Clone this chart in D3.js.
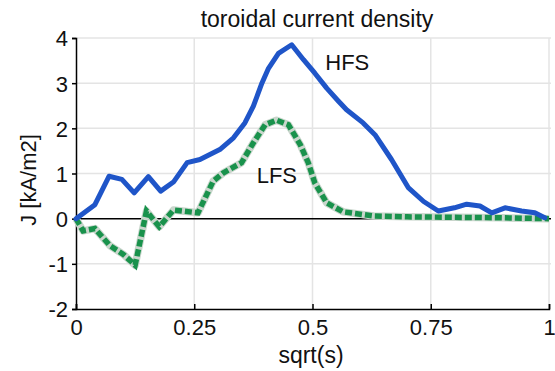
<!DOCTYPE html>
<html>
<head>
<meta charset="utf-8">
<script src="https://cdn.jsdelivr.net/npm/d3@7"></script>
<style>
  body { margin: 0; background: #fff; }
  text { font-family: "Liberation Sans", Arial, sans-serif; fill: #111; }
</style>
</head>
<body>
<div id="chart" style="width:555px;height:371px;"></div>
<script>
// values
const hfsX = [0, 0.04, 0.07, 0.097, 0.123, 0.153, 0.179, 0.206, 0.235, 0.262, 0.304, 0.333, 0.357, 0.375, 0.393, 0.407, 0.428, 0.456, 0.481, 0.505, 0.530, 0.555, 0.572, 0.607, 0.632, 0.667, 0.703, 0.735, 0.766, 0.80, 0.826, 0.854, 0.879, 0.907, 0.942, 0.970, 0.991];
const hfsY = [0, 0.31, 0.94, 0.87, 0.57, 0.93, 0.61, 0.81, 1.24, 1.31, 1.53, 1.79, 2.12, 2.49, 3.0, 3.33, 3.66, 3.85, 3.52, 3.22, 2.89, 2.60, 2.41, 2.12, 1.86, 1.31, 0.68, 0.38, 0.17, 0.24, 0.32, 0.28, 0.13, 0.24, 0.17, 0.13, 0.02];
const lfsX = [0, 0.015, 0.04, 0.072, 0.10, 0.125, 0.149, 0.176, 0.206, 0.258, 0.29, 0.311, 0.35, 0.375, 0.40, 0.424, 0.449, 0.474, 0.491, 0.505, 0.53, 0.565, 0.629, 0.70, 0.80, 0.90, 1.0];
const lfsY = [0, -0.27, -0.22, -0.6, -0.79, -1.03, 0.17, -0.18, 0.19, 0.13, 0.83, 1.01, 1.24, 1.68, 2.08, 2.18, 2.08, 1.64, 1.24, 0.79, 0.35, 0.15, 0.06, 0.04, 0.03, 0.02, 0];
const xTicks = [0, 0.25, 0.5, 0.75, 1];
const xTickLabels = ["0", "0.25", "0.5", "0.75", "1"];
const yTicks = [-2, -1, 0, 1, 2, 3, 4];

const hfs = hfsX.map((x, i) => ({x: x, y: hfsY[i]}));
const lfs = lfsX.map((x, i) => ({x: x, y: lfsY[i]}));

function drawChart(container){
    const width = 555, height = 371,
          margin = {top: 38, right: 6, bottom: 62, left: 76},
          innerWidth = width - margin.left - margin.right,
          innerHeight = height - margin.top - margin.bottom;

    const svg = d3.select(container).append('svg')
        .attr('width', width)
        .attr('height', height);

    const viz = svg.append('g')
        .attr('transform', `translate(${margin.left},${margin.top})`);

    const x = d3.scaleLinear().domain([0, 1]).range([0, 473]);
    const y = d3.scaleLinear().domain([-2, 4]).range([innerHeight, 0]);

    // grid
    const grid = viz.append('g').classed('grid', true);
    grid.selectAll('line.v')
        .data(xTicks.filter(d => d > 0))
        .enter().append('line')
        .attr('x1', d => x(d)).attr('x2', d => x(d))
        .attr('y1', 0).attr('y2', innerHeight)
        .style('stroke', '#e4e4e4').style('stroke-width', 1.5);
    grid.selectAll('line.h')
        .data(yTicks.filter(d => d > -2 && d !== 0))
        .enter().append('line')
        .attr('x1', 0).attr('x2', x(1) + 2)
        .attr('y1', d => y(d)).attr('y2', d => y(d))
        .style('stroke', '#e4e4e4').style('stroke-width', 1.5);

    // zero line
    viz.append('line')
        .attr('x1', 0).attr('x2', x(1) + 2)
        .attr('y1', y(0)).attr('y2', y(0))
        .style('stroke', '#000').style('stroke-width', 1.5);

    // axes
    const xAxis = d3.axisBottom(x)
        .tickValues(xTicks)
        .tickSize(-5)
        .tickPadding(10)
        .tickFormat((d, i) => xTickLabels[i]);
    const yAxis = d3.axisLeft(y)
        .tickValues(yTicks)
        .tickSize(4)
        .tickPadding(4)
        .tickFormat(d => String(d));

    const gx = viz.append('g')
        .attr('transform', `translate(0,${innerHeight})`)
        .call(xAxis);
    const gy = viz.append('g').call(yAxis);

    [gx, gy].forEach(g => {
        g.select('.domain').style('stroke', '#000').style('stroke-width', 1.5);
        g.selectAll('.tick line').style('stroke', '#000').style('stroke-width', 1.5);
        g.selectAll('.tick text')
            .style('font-family', '"Liberation Sans", Arial, sans-serif')
            .style('font-size', '22px')
            .style('fill', '#111');
    });
    gy.selectAll('.tick text').attr('dy', '0.36em');

    const line = d3.line().x(d => x(d.x)).y(d => y(d.y));

    // LFS: dashed green with soft grey halo
    viz.append('path').datum(lfs)
        .attr('d', line)
        .style('fill', 'none')
        .style('stroke', '#c9d6cc')
        .style('stroke-width', 7.5)
        .style('stroke-linejoin', 'round');
    viz.append('path').datum(lfs)
        .attr('d', line)
        .style('fill', 'none')
        .style('stroke', '#19924c')
        .style('stroke-width', 5.5)
        .style('stroke-dasharray', '7,3');

    // HFS: solid blue
    viz.append('path').datum(hfs)
        .attr('d', line)
        .style('fill', 'none')
        .style('stroke', '#1f55c8')
        .style('stroke-width', 5)
        .style('stroke-linejoin', 'round')
        .style('stroke-linecap', 'round');

    // series labels
    viz.append('text')
        .attr('x', x(0.527)).attr('y', y(3.3))
        .style('font-size', '22px')
        .text('HFS');
    viz.append('text')
        .attr('x', x(0.382)).attr('y', y(0.8))
        .style('font-size', '22px')
        .text('LFS');

    // title and axis titles
    svg.append('text')
        .attr('x', 317).attr('y', 27)
        .attr('text-anchor', 'middle')
        .style('font-size', '23px')
        .text('toroidal current density');
    svg.append('text')
        .attr('x', 311).attr('y', 363)
        .attr('text-anchor', 'middle')
        .style('font-size', '23px')
        .text('sqrt(s)');
    svg.append('text')
        .attr('transform', 'translate(36,180) rotate(-90)')
        .attr('text-anchor', 'middle')
        .style('font-size', '22px')
        .text('J [kA/m2]');
}

drawChart('#chart');
</script>
</body>
</html>
